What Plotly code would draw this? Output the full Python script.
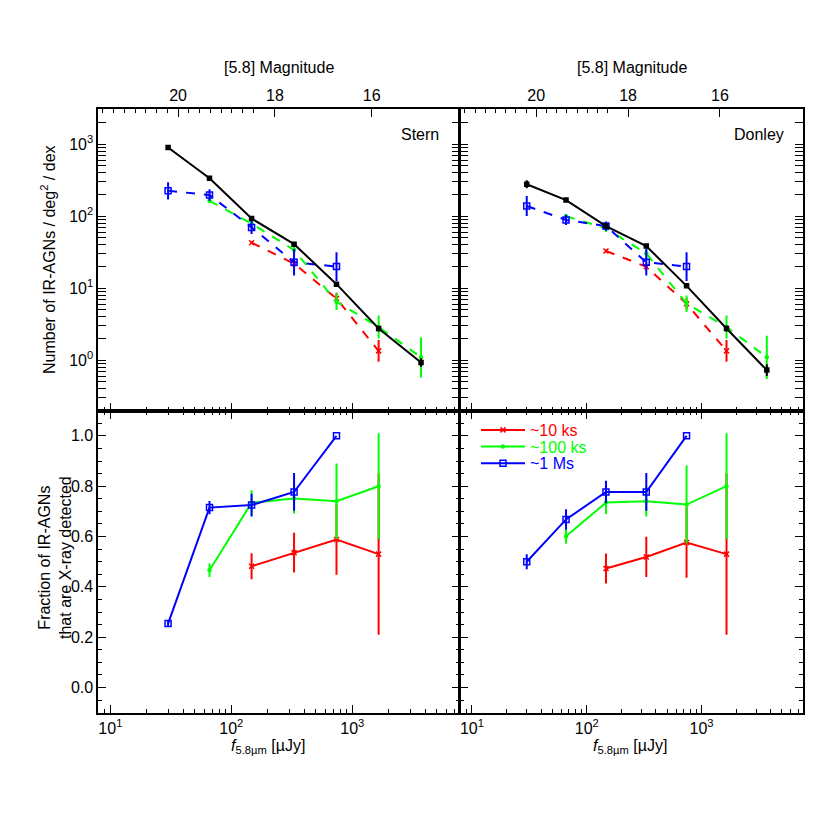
import plotly.graph_objects as go

# flux bins [uJy]
flux = [30, 66, 147, 330, 740, 1650, 3700]

# number counts, Stern selection (deg^-2 dex^-1) and errors in dex
stern_all = [900, 337, 93, 41, 11.4, 2.76, 0.93]
stern_all_err = [0.025, 0.015, 0.015, 0.02, 0.03, 0.04, 0.06]
stern_1ms = [226, 197, 70, 23, 20]
stern_1ms_err = [0.12, 0.08, 0.09, 0.185, 0.2]
stern_100ks = [164, 79, 34, 6.5, 2.9, 1.1]
stern_100ks_err = [0.03, 0.05, 0.07, 0.115, 0.16, 0.28]
stern_10ks = [43, 22, 7.2, 1.35]
stern_10ks_err = [0.02, 0.05, 0.08, 0.15]

# number counts, Donley selection
donley_all = [278, 168, 73, 38.5, 10.8, 2.76, 0.73]
donley_all_err = [0.055, 0.015, 0.02, 0.02, 0.03, 0.04, 0.08]
donley_1ms = [139, 89, 73, 23, 20]
donley_1ms_err = [0.14, 0.07, 0.065, 0.185, 0.2]
donley_100ks = [100, 68, 30.5, 6.1, 2.9, 1.1]
donley_100ks_err = [0.03, 0.05, 0.07, 0.115, 0.16, 0.3]
donley_10ks = [33, 19.9, 6.1, 1.35]
donley_10ks_err = [0.02, 0.05, 0.08, 0.15]

# X-ray detected fractions
frac_s_1ms = [0.254, 0.715, 0.725, 0.777, 1.0]
frac_s_1ms_err = [0.01, 0.026, 0.045, 0.075, 0.0]
frac_s_100ks = [0.466, 0.734, 0.751, 0.74, 0.8]
frac_s_100ks_err = [0.027, 0.05, 0.06, 0.15, 0.21]
frac_s_10ks = [0.482, 0.536, 0.588, 0.53]
frac_s_10ks_err = [0.052, 0.079, 0.14, 0.32]

frac_d_1ms = [0.5, 0.668, 0.777, 0.777, 1.0]
frac_d_1ms_err = [0.03, 0.04, 0.045, 0.075, 0.0]
frac_d_100ks = [0.601, 0.735, 0.74, 0.727, 0.8]
frac_d_100ks_err = [0.03, 0.045, 0.06, 0.155, 0.21]
frac_d_10ks = [0.473, 0.519, 0.576, 0.53]
frac_d_10ks_err = [0.06, 0.08, 0.14, 0.32]

mag_labels = [20, 18, 16]

RED, GREEN, BLUE = '#ff0000', '#00ff00', '#0000ff'
FONT = 'Liberation Sans'


def logerr(y, d):
    up = [v * (10 ** e - 1) for v, e in zip(y, d)]
    lo = [v * (1 - 10 ** -e) for v, e in zip(y, d)]
    return dict(type='data', symmetric=False, array=up, arrayminus=lo,
                width=0, thickness=2)


def linerr(d, color):
    return dict(type='data', array=d, width=0, thickness=2, color=color)


def counts(x, y, d, color, dash, symbol, size, xa, ya):
    return go.Scatter(x=x, y=y, mode='lines+markers', xaxis=xa, yaxis=ya,
                      line=dict(color=color, width=2, dash=dash),
                      marker=dict(symbol=symbol, size=size, color=color,
                                  line=dict(color=color, width=1.5)),
                      error_y=dict(logerr(y, d), color=color),
                      showlegend=False, hoverinfo='skip')


def fracs(x, y, d, color, symbol, size, xa, ya, name=None, legend=None):
    kw = dict(legend=legend) if legend else {}
    return go.Scatter(x=x, y=y, mode='lines+markers', xaxis=xa, yaxis=ya,
                      name=name, showlegend=name is not None,
                      line=dict(color=color, width=2),
                      marker=dict(symbol=symbol, size=size, color=color,
                                  line=dict(color=color, width=1.5)),
                      error_y=linerr(d, color), hoverinfo='skip', **kw)


traces = []
for xa, ya, a, ae, m1, m1e, h, he, t, te in [
        ('x', 'y', stern_all, stern_all_err, stern_1ms, stern_1ms_err,
         stern_100ks, stern_100ks_err, stern_10ks, stern_10ks_err),
        ('x2', 'y2', donley_all, donley_all_err, donley_1ms, donley_1ms_err,
         donley_100ks, donley_100ks_err, donley_10ks, donley_10ks_err)]:
    traces.append(counts(flux[2:6], t, te, RED, 'dash', 'x-thin-open', 5, xa, ya))
    traces.append(counts(flux[1:7], h, he, GREEN, 'dash', 'circle', 3, xa, ya))
    traces.append(counts(flux[0:5], m1, m1e, BLUE, 'dash', 'square-open', 6, xa, ya))
    traces.append(counts(flux, a, ae, 'black', 'solid', 'square', 4, xa, ya))

traces.append(fracs(flux[2:6], frac_s_10ks, frac_s_10ks_err, RED, 'x-thin-open', 5, 'x3', 'y3'))
traces.append(fracs(flux[1:6], frac_s_100ks, frac_s_100ks_err, GREEN, 'circle', 3, 'x3', 'y3'))
traces.append(fracs(flux[0:5], frac_s_1ms, frac_s_1ms_err, BLUE, 'square-open', 6, 'x3', 'y3'))
traces.append(fracs(flux[2:6], frac_d_10ks, frac_d_10ks_err, RED, 'x-thin-open', 5, 'x4', 'y4',
                    name="<span style='color:#ff0000'>~10 ks</span>", legend='legend'))
traces.append(fracs(flux[1:6], frac_d_100ks, frac_d_100ks_err, GREEN, 'circle', 3, 'x4', 'y4',
                    name="<span style='color:#00ff00'>~100 ks</span>", legend='legend2'))
traces.append(fracs(flux[0:5], frac_d_1ms, frac_d_1ms_err, BLUE, 'square-open', 6, 'x4', 'y4',
                    name="<span style='color:#0000ff'>~1 Ms</span>", legend='legend3'))

# invisible anchors for the magnitude axes
traces.append(go.Scatter(x=[flux[0]], y=[stern_all[0]], xaxis='x5', yaxis='y',
                         mode='markers', marker=dict(opacity=0), showlegend=False,
                         hoverinfo='skip'))
traces.append(go.Scatter(x=[flux[0]], y=[donley_all[0]], xaxis='x6', yaxis='y2',
                         mode='markers', marker=dict(opacity=0), showlegend=False,
                         hoverinfo='skip'))

fig = go.Figure(traces)

XR = [0.9, 3.886]
XL = [0.1184, 0.5536]
XRD = [0.5548, 0.9678]
YT = [0.5052, 0.8687]
YB = [0.1413, 0.5052]

decades = [10, 100, 1000]
minor_flux = [m * 10 ** e for e in range(0, 4) for m in range(2, 10)]
ax_common = dict(showline=True, linecolor='black', linewidth=1.8, ticks='inside',
                 tickcolor='black', tickwidth=1.2, showgrid=False, zeroline=False,
                 tickfont=dict(family=FONT, size=16, color='black'))


def flux_axis(domain, labels, mirror, anchor):
    return dict(ax_common, type='log', range=XR, domain=domain, anchor=anchor,
                tickmode='array', tickvals=decades,
                ticktext=['10<sup>1</sup>', '10<sup>2</sup>', '10<sup>3</sup>'],
                showticklabels=labels, ticklen=8, mirror=mirror,
                minor=dict(ticks='inside', ticklen=4, tickcolor='black',
                           tickmode='array', tickvals=minor_flux, showgrid=False))


mag_major = [10 ** ((23.9 - m) / 2.5) for m in mag_labels]
mag_minor = [10 ** ((23.9 - (20 + 2 * k / 9)) / 2.5) for k in range(-7, 27)]


def mag_axis(over, anchor):
    return dict(ax_common, type='log', range=XR, overlaying=over, anchor=anchor,
                side='top', tickmode='array', tickvals=mag_major,
                ticktext=[str(m) for m in mag_labels], ticklen=8,
                minor=dict(ticks='inside', ticklen=4, tickcolor='black',
                           tickmode='array', tickvals=mag_minor, showgrid=False))


ymaj = [1, 10, 100, 1000]
yminor = [m * 10 ** e for e in range(-1, 4) for m in range(2, 10)]


def count_axis(domain, labels, anchor):
    return dict(ax_common, type='log', range=[-0.7, 3.49], domain=domain, anchor=anchor,
                tickmode='array', tickvals=ymaj,
                ticktext=['10<sup>0</sup>', '10<sup>1</sup>', '10<sup>2</sup>', '10<sup>3</sup>'],
                showticklabels=labels, ticklen=8, mirror='allticks',
                minor=dict(ticks='inside', ticklen=4, tickcolor='black',
                           tickmode='array', tickvals=yminor, showgrid=False))


def frac_axis(domain, labels, anchor):
    return dict(ax_common, range=[-0.1, 1.1], domain=domain, anchor=anchor,
                tickmode='array', tickvals=[0, 0.2, 0.4, 0.6, 0.8, 1.0],
                ticktext=['0.0', '0.2', '0.4', '0.6', '0.8', '1.0'],
                showticklabels=labels, ticklen=8, mirror='allticks',
                minor=dict(ticks='inside', ticklen=4, tickcolor='black',
                           dtick=0.05, showgrid=False))


def note(text, x, y, xanchor='center', angle=0):
    return dict(text=text, x=x, y=y, xref='paper', yref='paper', xanchor=xanchor,
                yanchor='middle', textangle=angle, showarrow=False,
                font=dict(family=FONT, size=16, color='black'))


ann = []
for xc in [(XL[0] + XL[1]) / 2, (XRD[0] + XRD[1]) / 2]:
    ann.append(note('[5.8] Magnitude', xc, 1 - 68 / 830))
for xc in [268 / 830, 630 / 830]:
    ann.append(note('<i>f</i><sub>5.8µm</sub> [µJy]', xc, 1 - 746 / 830))
ann.append(note('Stern', 441 / 830, 1 - 134 / 830, xanchor='right'))
ann.append(note('Donley', 786 / 830, 1 - 134 / 830, xanchor='right'))
ann.append(note('Number of IR-AGNs / deg<sup>2</sup> / dex', 48 / 830, 1 - 260 / 830, angle=-90))
ann.append(note('Fraction of IR-AGNs<br>that are X-ray detected', 55 / 830, 1 - 558 / 830, angle=-90))


def leg(ypx):
    return dict(x=476 / 830, y=1 - ypx / 830, xanchor='left', yanchor='middle',
                bgcolor='rgba(0,0,0,0)', font=dict(family=FONT, size=16),
                itemwidth=44)


fig.update_layout(
    width=830, height=830,
    margin=dict(l=0, r=0, t=0, b=0),
    paper_bgcolor='white', plot_bgcolor='white',
    font=dict(family=FONT, size=16, color='black'),
    xaxis=flux_axis(XL, False, False, 'y'),
    yaxis=count_axis(YT, True, 'x'),
    xaxis2=flux_axis(XRD, False, False, 'y2'),
    yaxis2=count_axis(YT, False, 'x2'),
    xaxis3=flux_axis(XL, True, 'allticks', 'y3'),
    yaxis3=frac_axis(YB, True, 'x3'),
    xaxis4=flux_axis(XRD, True, 'allticks', 'y4'),
    yaxis4=frac_axis(YB, False, 'x4'),
    xaxis5=mag_axis('x', 'y'),
    xaxis6=mag_axis('x2', 'y2'),
    legend=leg(430),
    legend2=leg(446.7),
    legend3=leg(463.3),
    annotations=ann,
)

fig.write_html('out.html', config={'displayModeBar': False},
               post_script="document.body.style.margin='0';")
